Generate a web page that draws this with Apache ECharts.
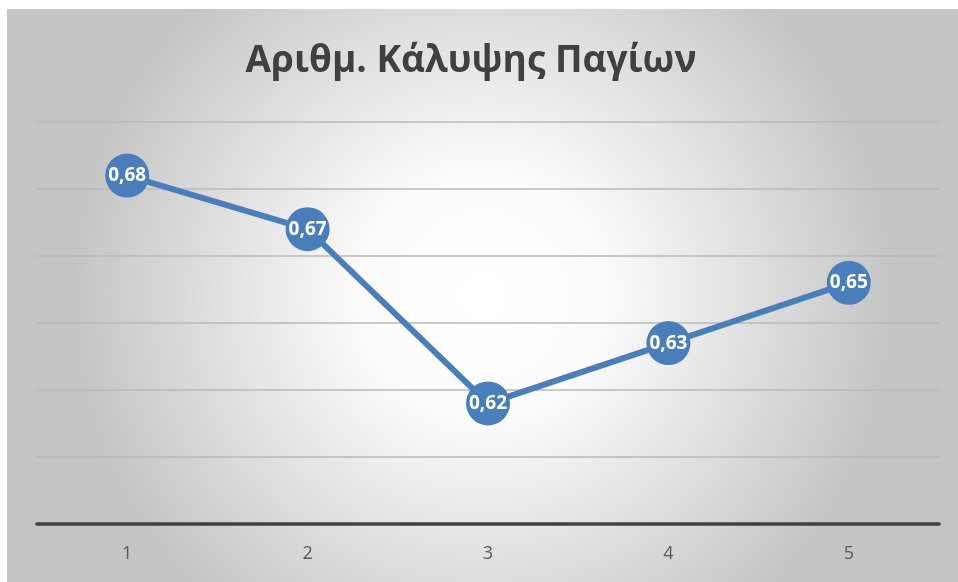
<!DOCTYPE html>
<html>
<head>
<meta charset="utf-8">
<script src="https://cdn.jsdelivr.net/npm/echarts@6/dist/echarts.min.js"></script>
<style>
  html, body { margin: 0; padding: 0; background: #ffffff; }
  #chart { width: 958px; height: 582px; }
</style>
</head>
<body>
<div id="chart"></div>
<script>
// Fixed asset coverage ratio per period
const titleText = 'Αριθμ. Κάλυψης Παγίων';
const categories = ['1', '2', '3', '4', '5'];
const ratios = [0.684, 0.668, 0.616, 0.634, 0.652];
const yMin = 0.58;
const yMax = 0.70;
const yStep = 0.02;

const chart = echarts.init(document.getElementById('chart'), null, { renderer: 'canvas' });

chart.setOption({
  backgroundColor: '#ffffff',
  graphic: [{
    type: 'rect',
    silent: true,
    z: -10,
    shape: { x: 7, y: 9, width: 951, height: 573 },
    style: {
      fill: new echarts.graphic.RadialGradient(0.5, 0.5, 0.72, [
        { offset: 0, color: '#ffffff' },
        { offset: 0.3, color: '#fbfbfb' },
        { offset: 1, color: '#c4c4c4' }
      ])
    }
  }],
  title: {
    text: titleText,
    left: 466,
    top: 38,
    textAlign: 'center',
    textStyle: {
      fontFamily: 'Open Sans',
      fontWeight: 'bold',
      fontSize: 37,
      color: '#404040'
    }
  },
  grid: { left: 37, right: 19, top: 122, bottom: 58, containLabel: false },
  xAxis: {
    type: 'category',
    data: categories,
    boundaryGap: true,
    axisLine: { show: true, lineStyle: { color: '#404040', width: 3.5 } },
    axisTick: { show: false },
    axisLabel: {
      color: '#595959',
      fontFamily: 'Open Sans',
      fontSize: 18,
      margin: 21
    },
    splitLine: { show: false }
  },
  yAxis: {
    type: 'value',
    min: yMin,
    max: yMax,
    interval: yStep,
    axisLine: { show: false },
    axisTick: { show: false },
    axisLabel: { show: false },
    splitLine: { show: true, lineStyle: { color: '#b8b8b8', width: 1.5 } }
  },
  series: [{
    type: 'line',
    data: ratios,
    symbol: 'circle',
    symbolSize: 44,
    lineStyle: { color: '#4a7ebb', width: 6 },
    itemStyle: { color: '#4a7ebb', borderWidth: 0 },
    label: {
      show: true,
      position: 'inside',
      color: '#ffffff',
      fontFamily: 'Open Sans',
      fontWeight: 'bold',
      fontSize: 19,
      formatter: p => p.value.toFixed(2).replace('.', ',')
    },
    emphasis: { disabled: true },
    animation: false
  }],
  animation: false
});
</script>
</body>
</html>
